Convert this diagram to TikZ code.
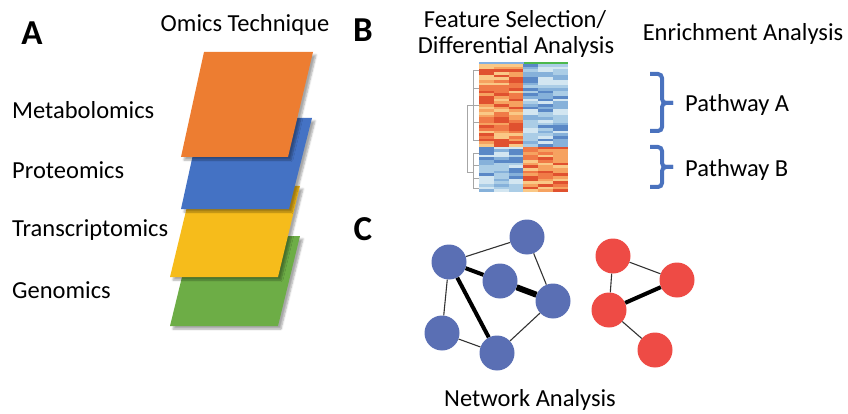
\documentclass[tikz,border=0pt]{standalone}
\usepackage{fontspec}
\setmainfont{Carlito}
\usetikzlibrary{shadows.blur}
\definecolor{omOrange}{HTML}{ED7D31}
\definecolor{omBlue}{HTML}{4472C4}
\definecolor{omYellow}{HTML}{F6BC1B}
\definecolor{omGreen}{HTML}{6DAD46}
\definecolor{netBlue}{HTML}{5A6FB4}
\definecolor{netRed}{HTML}{EE4B45}
\definecolor{braceBlue}{HTML}{4A72BE}
\definecolor{warm1}{HTML}{E0512F}
\definecolor{warm2}{HTML}{F07A47}
\definecolor{warm3}{HTML}{F6A260}
\definecolor{warm4}{HTML}{FAC886}
\definecolor{cool1}{HTML}{5A88C6}
\definecolor{cool2}{HTML}{86B1DA}
\definecolor{cool3}{HTML}{ABCDE6}
\definecolor{cool4}{HTML}{D3E6F1}
\tikzset{
  layer/.style={blur shadow={shadow xshift=3pt,shadow yshift=-3pt,shadow blur steps=6,shadow opacity=35}},
  lbl/.style={font=\fontsize{24.5}{26}\selectfont, inner sep=0pt},
  panel/.style={font=\fontsize{35}{36}\selectfont\bfseries, inner sep=0pt},
  bnode/.style={circle, fill=netBlue, minimum size=35pt, inner sep=0pt},
  rnode/.style={circle, fill=netRed, minimum size=35pt, inner sep=0pt},
  thinedge/.style={draw=black!80, line width=1.1pt},
  thickedge/.style={draw=black, line width=4pt},
  bracepath/.style={draw=braceBlue, line width=4pt, rounded corners=4pt},
  dendro/.style={draw=gray!70, line width=0.7pt}
}
\begin{document}
\begin{tikzpicture}[x=1pt,y=-1pt]
\useasboundingbox (0,0) rectangle (848,414);
% Panel A
\node[panel] (pA) at (32,33) {A};
\node[lbl] (omt) at (245,25) {Omics Technique};
\fill[omGreen,layer] (192,236) -- (300,236) -- (278,326) -- (170,326) -- cycle;
\fill[omYellow,layer] (192,186) -- (300,186) -- (278,277) -- (170,277) -- cycle;
\fill[omBlue,layer] (201,118) -- (312,118) -- (289,209) -- (181,209) -- cycle;
\fill[omOrange,layer] (204,52) -- (313,52) -- (288,157) -- (181,157) -- cycle;
\node[lbl,anchor=west] (meta) at (12,110) {Metabolomics};
\node[lbl,anchor=west] (prot) at (12,170) {Proteomics};
\node[lbl,anchor=west] (tran) at (12,230) {Transcriptomics};
\node[lbl,anchor=west] (geno) at (12,290) {Genomics};
% Panel B
\node[panel] (pB) at (363,30) {B};
\node[lbl] (fs1) at (515,20) {Feature Selection/};
\node[lbl] (fs2) at (516,47) {Differential Analysis};
\node[lbl] (enr) at (743,34) {Enrichment Analysis};
\pgfmathsetseed{11}
\foreach \r in {0,...,47}{
  \foreach \c in {0,...,5}{
    \pgfmathtruncatemacro\w{((\r<31)==(\c<3))}
    \pgfmathrandominteger{\k}{1}{4}
    \ifnum\w=1 \def\col{warm\k}\else\def\col{cool\k}\fi
    \fill[\col] ({479+\c*14.83},{64+\r*2.67}) rectangle ++(14.83,2.7);
  }
}
\fill[cyan!60!blue!50] (479,62) rectangle (523.5,64.5);
\fill[green!60!black!70] (523.5,62) rectangle (568,64.5);
% dendrogram
\draw[dendro] (473,105) -- (467,105) -- (467,172) -- (473,172);
\draw[dendro] (479,70) -- (473,70) -- (473,140) -- (479,140);
\draw[dendro] (479,88) -- (473,88);
\draw[dendro] (479,105) -- (473,105);
\draw[dendro] (479,122) -- (473,122);
\draw[dendro] (479,153) -- (473,153) -- (473,188) -- (479,188);
\draw[dendro] (479,165) -- (473,165);
\draw[dendro] (479,178) -- (473,178);
% braces
\draw[bracepath] (650,74) -- (662,74) -- (662,103) -- (673,103);
\draw[bracepath] (673,103) -- (662,103) -- (662,131) -- (650,131);
\draw[bracepath] (650,147) -- (662,147) -- (662,167) -- (673,167);
\draw[bracepath] (673,167) -- (662,167) -- (662,187) -- (650,187);
\node[lbl,anchor=west] (pwA) at (685,105) {Pathway A};
\node[lbl,anchor=west] (pwB) at (685,170) {Pathway B};
% Panel C
\node[panel] (pC) at (363,229) {C};
\node[bnode] (n1) at (449,262) {};
\node[bnode] (n2) at (527,237) {};
\node[bnode] (n3) at (500,281) {};
\node[bnode] (n4) at (553,301) {};
\node[bnode] (n5) at (442,333) {};
\node[bnode] (n6) at (497,353) {};
\node[rnode] (r1) at (613,256) {};
\node[rnode] (r2) at (677,280) {};
\node[rnode] (r3) at (609,310) {};
\node[rnode] (r4) at (655,350) {};
\draw[thinedge] (n1) -- (n2);
\draw[thinedge] (n2) -- (n4);
\draw[thinedge] (n1) -- (n5);
\draw[thinedge] (n5) -- (n6);
\draw[thinedge] (n4) -- (n6);
\draw[thickedge] (n1) -- (n3);
\draw[thickedge] (n1) -- (n6);
\draw[draw=black, line width=6pt] (n3) -- (n4);
\draw[thinedge] (r1) -- (r2);
\draw[thinedge] (r1) -- (r3);
\draw[thinedge] (r3) -- (r4);
\draw[thickedge] (r3) -- (r2);
\node[lbl] (net) at (530,400) {Network Analysis};
\end{tikzpicture}
\end{document}
